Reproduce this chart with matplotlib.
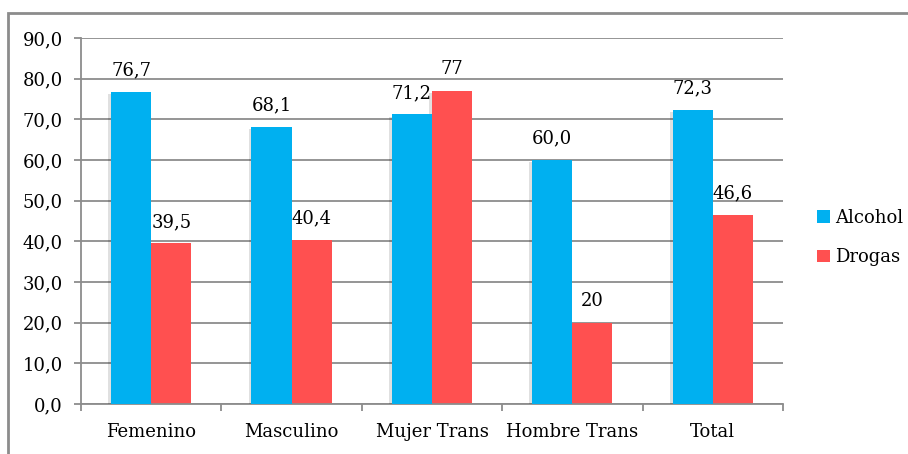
import matplotlib
matplotlib.use("Agg")
import matplotlib.pyplot as plt
import matplotlib.patheffects as pe
from matplotlib.patches import Rectangle
import numpy as np

# Porcentajes de consumo por grupo
categorias = ["Femenino", "Masculino", "Mujer Trans", "Hombre Trans", "Total"]
alcohol = [76.7, 68.1, 71.2, 60.0, 72.3]
drogas = [39.5, 40.4, 77, 20, 46.6]
etiquetas_alcohol = ["76,7", "68,1", "71,2", "60,0", "72,3"]
etiquetas_drogas = ["39,5", "40,4", "77", "20", "46,6"]
yticks = [0, 10, 20, 30, 40, 50, 60, 70, 80, 90]

AZUL = "#00B0F0"
ROJO = "#FF5050"
GRIS = "#8C8C8C"

plt.rcParams["font.family"] = ["DejaVu Serif"]

fig = plt.figure(figsize=(9.08, 4.54), dpi=100)
ax = fig.add_axes([0.0892, 0.1101, 0.7731, 0.8062])

# Marco exterior del grafico
fig.patches.append(Rectangle((8 / 908, -0.05), 1.1, (454 - 13) / 454 + 0.05,
                             transform=fig.transFigure, fill=False,
                             edgecolor=GRIS, linewidth=2))

x = np.arange(len(categorias))
w = 40 / 140
sombra = [pe.SimplePatchShadow(offset=(-2, -1.5), shadow_rgbFace="black", alpha=0.12), pe.Normal()]

b1 = ax.bar(x - w / 2, alcohol, w, color=AZUL, label="Alcohol", zorder=3, path_effects=sombra)
b2 = ax.bar(x + w / 2, drogas, w, color=ROJO, label="Drogas", zorder=2, path_effects=sombra)

for rects, labels in ((b1, etiquetas_alcohol), (b2, etiquetas_drogas)):
    for r, lab in zip(rects, labels):
        ax.annotate(lab, (r.get_x() + r.get_width() / 2, r.get_height()),
                    xytext=(0, 9), textcoords="offset points",
                    ha="center", va="bottom", fontsize=13)

ax.set_ylim(0, 90)
ax.set_xlim(-0.5, len(categorias) - 0.5)
ax.set_yticks(yticks)
ax.set_yticklabels([f"{v:.1f}".replace(".", ",") for v in yticks])
ax.set_xticks(x)
ax.set_xticklabels(categorias)
ax.set_xticks(np.arange(len(categorias) + 1) - 0.5, minor=True)

ax.yaxis.grid(True, color=GRIS, linewidth=1.3, zorder=0)
ax.set_axisbelow(True)
for s in ("top", "right"):
    ax.spines[s].set_visible(False)
for s in ("left", "bottom"):
    ax.spines[s].set_color(GRIS)
    ax.spines[s].set_linewidth(1.3)

ax.tick_params(axis="y", length=5, width=1.3, color=GRIS, pad=8, labelsize=13)
ax.tick_params(axis="x", which="major", length=0, pad=14, labelsize=13)
ax.tick_params(axis="x", which="minor", length=5, width=1.3, color=GRIS)

leg = ax.legend(loc="center left", bbox_to_anchor=(1.0, 0.455), frameon=False,
                fontsize=13, handlelength=0.7, handleheight=0.7, handletextpad=0.3,
                labelspacing=1.2, borderaxespad=1.5)
for h in leg.legend_handles:
    h.set_path_effects([])

fig.savefig("out.png", dpi=100)
